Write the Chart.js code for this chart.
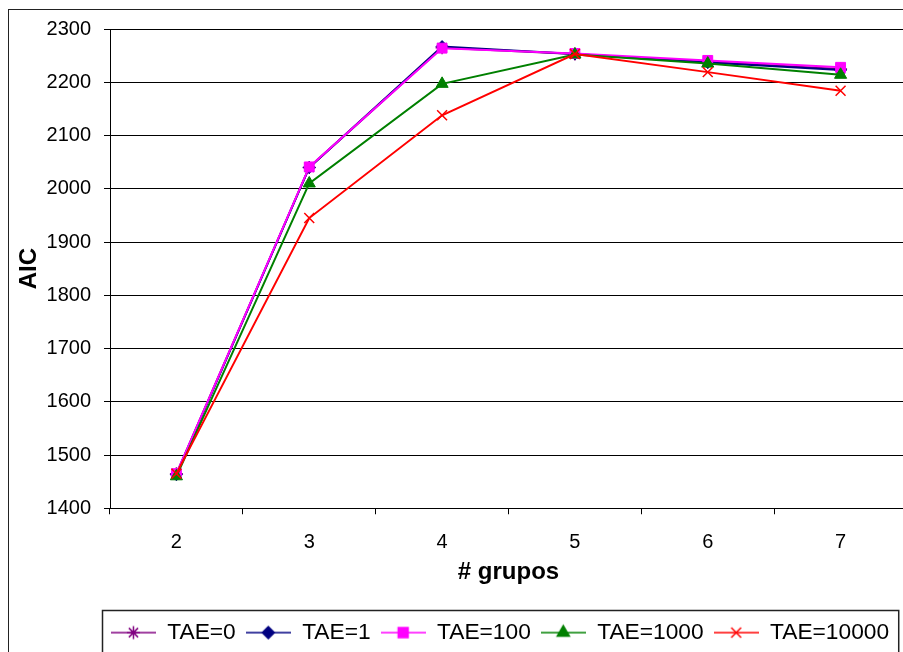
<!DOCTYPE html>
<html>
<head>
<meta charset="utf-8">
<script src="https://cdn.jsdelivr.net/npm/chart.js@4.4.1/dist/chart.umd.min.js"></script>
<style>
  html, body { margin: 0; padding: 0; background: #fff; }
  #frame { position: relative; width: 903px; height: 652px; overflow: hidden; background: #fff; }
  #outline { position: absolute; left: 8px; top: 9px; width: 1000px; height: 700px; border: 1.5px solid #222; box-sizing: border-box; }
  #holder { position: absolute; left: 0; top: 0; width: 1000px; height: 660px; }
</style>
</head>
<body>
<div id="frame">
  <div id="outline"></div>
  <div id="holder"><canvas id="chart" width="1000" height="660"></canvas></div>
</div>
<script>
// Number of groups tested
const categories = ['2', '3', '4', '5', '6', '7'];

// AIC per number of groups, one list per TAE setting
const seriesNames = ['TAE=0', 'TAE=1', 'TAE=100', 'TAE=1000', 'TAE=10000'];
const tae0     = [1465, 2040, 2265, 2253, 2238, 2225];
const tae1     = [1463, 2040, 2267, 2253, 2237, 2223];
const tae100   = [1465, 2041, 2264, 2254, 2241, 2228];
const tae1000  = [1460, 2010, 2197, 2252, 2235, 2214];
const tae10000 = [1465, 1945, 2138, 2253, 2219, 2184];

// Y axis range and step
const yMin = 1400, yMax = 2300, yStep = 100;

const FONT = "'Liberation Sans', Arial, sans-serif";

const styles = [
  { color: '#800080', point: 'star',     radius: 6.5, width: 1.5 },
  { color: '#000080', point: 'rectRot',  radius: 6,   width: 1 },
  { color: '#FF00FF', point: 'rect',     radius: 7,   width: 1 },
  { color: '#008000', point: 'triangle', radius: 7,   width: 1 },
  { color: '#FF0000', point: 'crossRot', radius: 7,   width: 1.5 }
];
const values = [tae0, tae1, tae100, tae1000, tae10000];

// Legend swatch: a short line with the series marker in the middle
function legendSwatch(st) {
  const c = document.createElement('canvas');
  c.width = 45; c.height = 22;
  const ctx = c.getContext('2d');
  ctx.strokeStyle = st.color;
  ctx.fillStyle = st.color;
  ctx.lineWidth = 1.5;
  ctx.beginPath();
  ctx.moveTo(0, 11); ctx.lineTo(45, 11);
  ctx.stroke();
  Chart.helpers.drawPoint(ctx, { pointStyle: st.point, radius: st.radius, rotation: 0, borderWidth: st.width }, 22.5, 11);
  return c;
}

const datasets = seriesNames.map((name, i) => ({
  label: name,
  data: values[i],
  borderColor: styles[i].color,
  backgroundColor: styles[i].color,
  borderWidth: 2,
  tension: 0,
  pointStyle: styles[i].point,
  pointRadius: styles[i].radius,
  pointBorderWidth: styles[i].width,
  pointBorderColor: styles[i].color,
  pointBackgroundColor: styles[i].color,
  order: seriesNames.length - i,
  yAxisID: 'y'
}));

// Box drawn around the legend entries
const legendFrame = {
  id: 'legendFrame',
  afterDraw(chart) {
    const lg = chart.legend;
    if (!lg || !lg.legendHitBoxes || !lg.legendHitBoxes.length) return;
    const boxes = lg.legendHitBoxes;
    const left = Math.min(...boxes.map(b => b.left)) - 9;
    const right = Math.max(...boxes.map(b => b.left + b.width)) + 9;
    const top = Math.min(...boxes.map(b => b.top)) - 11;
    const ctx = chart.ctx;
    ctx.save();
    ctx.strokeStyle = '#222';
    ctx.lineWidth = 1.5;
    ctx.strokeRect(Math.round(left) + 0.5, Math.round(top) + 0.5, right - left, 200);
    ctx.restore();
  }
};

new Chart(document.getElementById('chart'), {
  type: 'line',
  data: { labels: categories, datasets },
  options: {
    responsive: false,
    animation: false,
    devicePixelRatio: 1,
    layout: { padding: { top: 29, left: 0, right: 0, bottom: 6 } },
    plugins: {
      tooltip: { enabled: false },
      legend: {
        position: 'bottom',
        align: 'center',
        labels: {
          usePointStyle: true,
          pointStyleWidth: 45,
          padding: 10,
          color: '#000',
          font: { family: FONT, size: 22.75 },
          sort: (a, b) => a.datasetIndex - b.datasetIndex,
          generateLabels: (chart) => Chart.defaults.plugins.legend.labels.generateLabels(chart).map(l => {
            l.pointStyle = legendSwatch(styles[l.datasetIndex]);
            return l;
          })
        }
      }
    },
    scales: {
      x: {
        type: 'category',
        offset: true,
        afterFit: (s) => { s.height = 103; },
        grid: { offset: true, drawOnChartArea: false, drawTicks: true, tickLength: 6, color: '#000' },
        border: { color: '#000', width: 1 },
        ticks: { color: '#000', padding: 16, font: { family: FONT, size: 20 } },
        title: { display: true, text: '# grupos', color: '#000', padding: { top: 0, bottom: 24 }, font: { family: FONT, size: 24, weight: 'bold' } }
      },
      y: {
        position: 'left',
        min: yMin,
        max: yMax,
        afterFit: (s) => { s.width = 110; },
        grid: { color: '#000', lineWidth: 1, tickLength: 6 },
        border: { color: '#000', width: 1 },
        ticks: { stepSize: yStep, color: '#000', padding: 13, format: { useGrouping: false }, font: { family: FONT, size: 20 } },
        title: { display: true, text: 'AIC', color: '#000', padding: { top: 15, bottom: 0 }, font: { family: FONT, size: 24, weight: 'bold' } }
      },
      // empty right-hand strip so the plot runs past the page edge
      yRight: {
        position: 'right',
        display: true,
        afterFit: (s) => { s.width = 93; },
        grid: { display: false },
        border: { display: false },
        ticks: { display: false }
      }
    }
  },
  plugins: [legendFrame]
});
</script>
</body>
</html>
